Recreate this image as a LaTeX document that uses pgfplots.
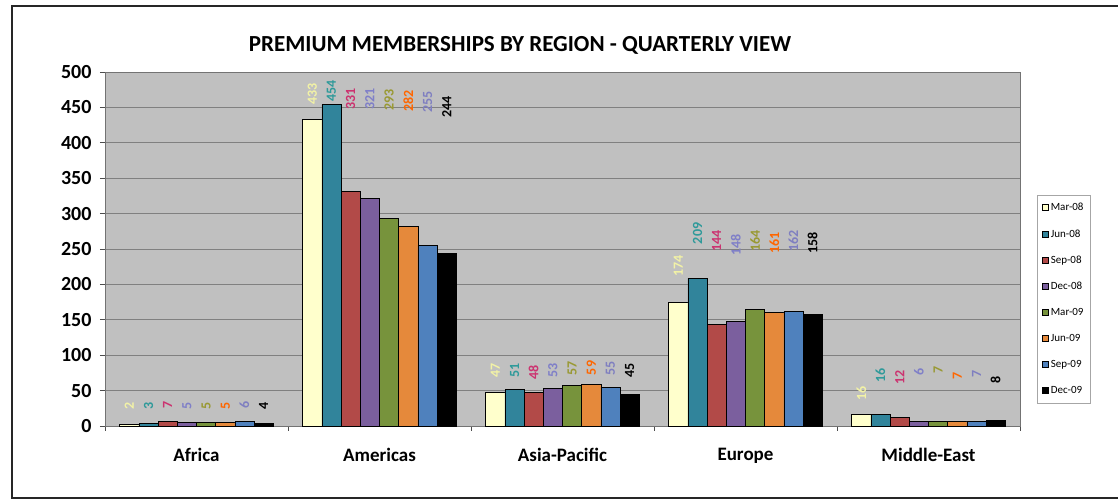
\documentclass[border=0pt]{standalone}
\usepackage{pgfplots}
\pgfplotsset{compat=1.18}
\usepackage{fontspec}
\setmainfont{Carlito}
\definecolor{bgray}{HTML}{C0C0C0}
\definecolor{c1}{HTML}{FFFFCC}
\definecolor{c2}{HTML}{31849B}
\definecolor{c3}{HTML}{B24A48}
\definecolor{c4}{HTML}{7B5F9E}
\definecolor{c5}{HTML}{77933C}
\definecolor{c6}{HTML}{E5893B}
\definecolor{c7}{HTML}{4F81BD}
\definecolor{c8}{HTML}{000000}
\definecolor{t1}{HTML}{F2F2A6}
\definecolor{t2}{HTML}{2F9A9A}
\definecolor{t3}{HTML}{CC3370}
\definecolor{t4}{HTML}{7F7FC8}
\definecolor{t5}{HTML}{999933}
\definecolor{t6}{HTML}{FF6600}
\definecolor{t7}{HTML}{7F7FC0}
\definecolor{t8}{HTML}{000000}
\pgfplotsset{
  lbl/.style={draw=none, mark=none, forget plot, nodes near coords,
    point meta=explicit symbolic,
    every node near coord/.style={anchor=center, rotate=90, inner sep=0pt,
      font=\bfseries\fontsize{14}{14}\selectfont, text=#1}},
  barstyle/.style 2 args={ybar, bar width=19.2pt, bar shift=#1pt, fill=#2, draw=black, line width=0.8pt},
}
\begin{document}
\begin{tikzpicture}[x=1pt,y=1pt]
\path[use as bounding box] (0,0) rectangle (1118,500);
\draw[line width=1.6pt, black!85] (1120,494) -- (12,494) -- (12,2) -- (1120,2);
\node[font=\bfseries\fontsize{23}{23}\selectfont] at (520,455) {PREMIUM MEMBERSHIPS BY REGION - QUARTERLY VIEW};
\begin{axis}[
  at={(105pt,74pt)}, anchor=south west,
  scale only axis, width=915pt, height=354pt,
  xmin=-0.5, xmax=4.5, ymin=0, ymax=500,
  axis background/.style={fill=bgray},
  axis line style={draw=black!55},
  ytick={0,50,...,500},
  ymajorgrids, grid style={draw=black!50, line width=0.8pt},
  xtick={0,1,2,3,4},
  xticklabels={Africa,Americas,Asia-Pacific,Europe,Middle-East},
  minor xtick={-0.5,0.5,1.5,2.5,3.5,4.5},
  xtick pos=bottom, ytick pos=left,
  tick align=outside, major tick length=5pt, minor tick length=5pt,
  x tick style={draw=none},
  minor x tick style={draw=black!70, line width=0.8pt},
  y tick style={draw=black!70, line width=0.8pt},
  xminorgrids=false,
  /pgf/number format/assume math mode=true,
  yticklabel style={font=\bfseries\fontsize{20}{20}\selectfont, xshift=-5pt},
  xticklabel style={font=\bfseries\fontsize{19}{19}\selectfont, yshift=-14pt},
  legend style={at={(1.0186,0.6525)}, anchor=north west, draw=black!35, fill=white,
    font=\fontsize{11}{11}\selectfont, row sep=13.3pt, inner xsep=5pt, inner ysep=6pt,
    legend cell align=left},
  legend image code/.code={\draw[#1, draw=black, line width=0.6pt, bar shift=0pt] (0pt,-3pt) rectangle (6pt,3pt);},
  clip=false,
]
\addplot[barstyle={-67.2}{c1}] coordinates {(0,2) (1,433) (2,47) (3,174) (4,16)};
\addplot[barstyle={-48}{c2}] coordinates {(0,3) (1,454) (2,51) (3,209) (4,16)};
\addplot[barstyle={-28.8}{c3}] coordinates {(0,7) (1,331) (2,48) (3,144) (4,12)};
\addplot[barstyle={-9.6}{c4}] coordinates {(0,5) (1,321) (2,53) (3,148) (4,6)};
\addplot[barstyle={9.6}{c5}] coordinates {(0,5) (1,293) (2,57) (3,164) (4,7)};
\addplot[barstyle={28.8}{c6}] coordinates {(0,5) (1,282) (2,59) (3,161) (4,7)};
\addplot[barstyle={48}{c7}] coordinates {(0,6) (1,255) (2,55) (3,162) (4,7)};
\addplot[barstyle={67.2}{c8}] coordinates {(0,4) (1,244) (2,45) (3,158) (4,8)};
\legend{Mar-08,Jun-08,Sep-08,Dec-08,Mar-09,Jun-09,Sep-09,Dec-09}
% value labels
\addplot[lbl=t1] coordinates {(-0.3672,28) [2] (0.6328,469) [433] (1.6328,78) [47] (2.6328,226) [174] (3.6328,46) [16]};
\addplot[lbl=t2] coordinates {(-0.2623,28) [3] (0.7377,473) [454] (1.7377,79) [51] (2.7377,272) [209] (3.7377,71) [16]};
\addplot[lbl=t3] coordinates {(-0.1574,30) [7] (0.8426,462) [331] (1.8426,76) [48] (2.8426,261) [144] (3.8426,69) [12]};
\addplot[lbl=t4] coordinates {(-0.0525,28) [5] (0.9475,462) [321] (1.9475,79) [53] (2.9475,256) [148] (3.9475,76) [6]};
\addplot[lbl=t5] coordinates {(0.0525,28) [5] (1.0525,460) [293] (2.0525,81) [57] (3.0525,261) [164] (4.0525,79) [7]};
\addplot[lbl=t6] coordinates {(0.1574,28) [5] (1.1574,459) [282] (2.1574,82) [59] (3.1574,258) [161] (4.1574,71) [7]};
\addplot[lbl=t7] coordinates {(0.2623,30) [6] (1.2623,458) [255] (2.2623,81) [55] (3.2623,261) [162] (4.2623,73) [7]};
\addplot[lbl=t8] coordinates {(0.3672,28) [4] (1.3672,451) [244] (2.3672,79) [45] (3.3672,258) [158] (4.3672,65) [8]};
\end{axis}
\end{tikzpicture}
\end{document}
